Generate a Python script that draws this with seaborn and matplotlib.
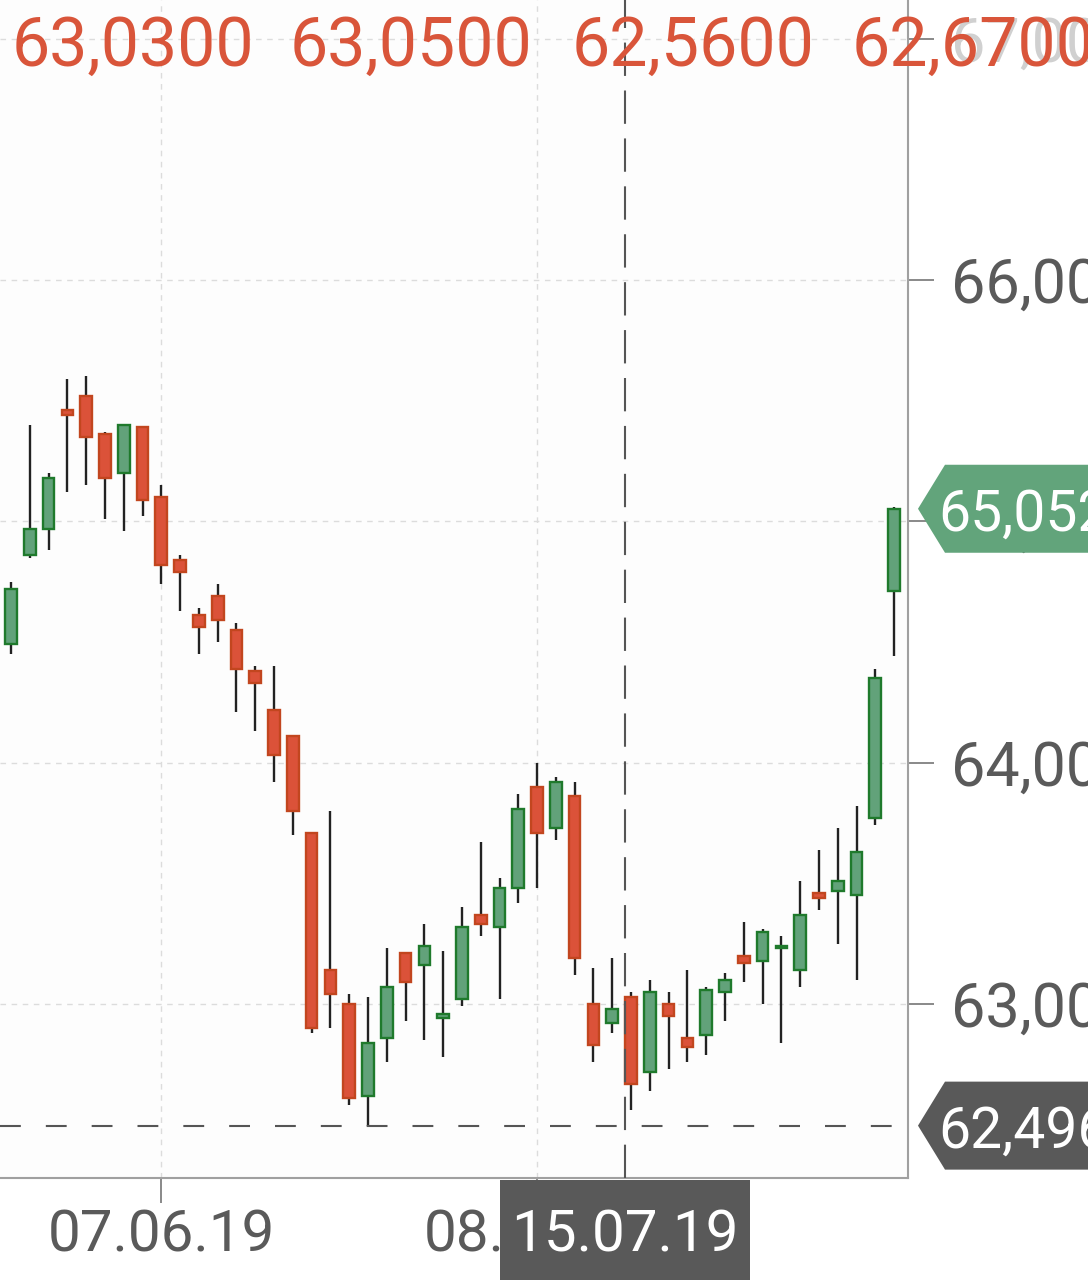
import matplotlib
matplotlib.use("Agg")
import matplotlib.pyplot as plt
import seaborn as sns
import numpy as np
import pandas as pd
from matplotlib.patches import Polygon, Rectangle

# ---------------- data ----------------
opens = [64.49, 64.86, 64.97, 65.46, 65.52, 65.36, 65.20, 65.39, 65.10, 64.84,
         64.61, 64.69, 64.55, 64.38, 64.22, 64.11, 63.71, 63.14, 63.00, 62.62,
         62.86, 63.21, 63.16, 62.94, 63.02, 63.37, 63.32, 63.48, 63.90, 63.73,
         63.86, 63.00, 62.92, 63.03, 62.72, 63.00, 62.86, 62.87, 63.05, 63.20,
         63.18, 63.23, 63.14, 63.46, 63.47, 63.45, 63.77, 64.71]
closes = [64.72, 64.97, 65.18, 65.44, 65.35, 65.18, 65.40, 65.09, 64.82, 64.79,
          64.56, 64.59, 64.39, 64.33, 64.03, 63.80, 62.90, 63.04, 62.61, 62.84,
          63.07, 63.09, 63.24, 62.96, 63.32, 63.33, 63.48, 63.81, 63.71, 63.92,
          63.19, 62.83, 62.98, 62.67, 63.05, 62.95, 62.82, 63.06, 63.10, 63.17,
          63.30, 63.24, 63.37, 63.44, 63.51, 63.63, 64.35, 65.052]
highs = [64.75, 65.40, 65.20, 65.59, 65.60, 65.37, 65.40, 65.39, 65.15, 64.86,
         64.64, 64.74, 64.58, 64.40, 64.40, 64.11, 63.71, 63.80, 63.04, 63.03,
         63.23, 63.21, 63.33, 63.22, 63.40, 63.67, 63.52, 63.87, 64.00, 63.94,
         63.92, 63.15, 63.19, 63.05, 63.10, 63.05, 63.14, 63.07, 63.13, 63.34,
         63.31, 63.28, 63.51, 63.64, 63.73, 63.82, 64.39, 65.06]
lows = [64.45, 64.85, 64.88, 65.12, 65.15, 65.01, 64.96, 65.02, 64.74, 64.63,
        64.45, 64.50, 64.21, 64.13, 63.92, 63.70, 62.88, 62.90, 62.58, 62.496,
        62.76, 62.93, 62.85, 62.78, 62.99, 63.28, 63.02, 63.42, 63.48, 63.68,
        63.12, 62.76, 62.88, 62.56, 62.64, 62.73, 62.76, 62.79, 62.93, 63.09,
        63.00, 62.84, 63.07, 63.39, 63.25, 63.10, 63.74, 64.44]

x_tick_positions = [8, 28]
x_tick_labels = ["07.06.19", "08.07.19"]
y_ticks = [63, 64, 65, 66, 67]
cross_index = 33
cross_label = "15.07.19"

df = pd.DataFrame({"open": opens, "high": highs, "low": lows, "close": closes})
df["idx"] = np.arange(len(df))
df["up"] = df["close"] >= df["open"]

GREEN_FILL, GREEN_EDGE = "#62a27a", "#1f7a2c"
RED_FILL, RED_EDGE = "#db5239", "#c2461f"
RED_TEXT = "#d9553a"
GRAY_TXT = "#5a5a5a"

sns.set_theme(style="white")
plt.rcParams["font.family"] = ["Roboto", "DejaVu Sans"]

W, H = 1088, 1280
fig = plt.figure(figsize=(W / 100, H / 100), dpi=100)
fig.patch.set_facecolor("white")
ax = fig.add_axes([0, 102 / H, 908 / W, 1178 / H])
ax.set_facecolor("#fdfdfd")

# wicks
ax.vlines(df["idx"], df["low"], df["high"], color="#222222", lw=1.7, zorder=2)
# bodies
body_bottom = df[["open", "close"]].min(axis=1)
body_h = (df["close"] - df["open"]).abs().clip(lower=0.012)
ax.bar(df["idx"], body_h, bottom=body_bottom, width=0.62,
       color=np.where(df["up"], GREEN_FILL, RED_FILL),
       edgecolor=np.where(df["up"], GREEN_EDGE, RED_EDGE),
       linewidth=1.7, zorder=3)

ax.set_xlim(-0.585, 47.74)
ax.set_ylim(62.279, 67.16)

# grid
ax.set_xticks(x_tick_positions)
ax.set_xticklabels(x_tick_labels)
ax.set_yticks(y_ticks)
ax.set_yticklabels([f"{v:.2f}".replace(".", ",") for v in y_ticks])
ax.grid(True, color="#dcdcdc", linestyle=(0, (4, 4)), lw=1.0, zorder=0)

ax.yaxis.tick_right()
ax.tick_params(axis="y", right=True, length=19, width=1.3, color="#808080",
               labelsize=44, labelcolor=GRAY_TXT, pad=12)
ax.tick_params(axis="x", bottom=True, length=18, width=1.3, color="#808080",
               labelsize=42, labelcolor=GRAY_TXT, pad=4)
for lbl, v in zip(ax.get_yticklabels(), y_ticks):
    if v == 67:
        lbl.set_color("#d0d0d0")

for s in ["left", "top"]:
    ax.spines[s].set_visible(False)
for s in ["right", "bottom"]:
    ax.spines[s].set_color("#a0a0a0")
    ax.spines[s].set_linewidth(1.5)

# crosshair lines
min_price = df["low"].min()
last_price = df["close"].iloc[-1]
ax.axhline(min_price, color="#555555", lw=1.5, linestyle=(0, (10, 12)), zorder=4)
ax.axvline(cross_index - 0.32, color="#555555", lw=1.5, linestyle=(0, (16, 7)), zorder=4)

# header with OHLC of crosshair candle
row = df.iloc[cross_index]
header_vals = [row["open"], row["high"], row["low"], row["close"]]
header_x = [12, 290, 572, 852]
for hx, v in zip(header_x, header_vals):
    fig.text(hx / W, 1 - 47 / H, f"{v:.4f}".replace(".", ","), color=RED_TEXT,
             fontsize=49, ha="left", va="center", zorder=10)

fig.canvas.draw()


def price_to_fig_y(p):
    return ax.transData.transform((0, p))[1] / H


def tag(price, color, text):
    yc = price_to_fig_y(price)
    hh = 44 / H
    pts = [(918 / W, yc), (945 / W, yc + hh), (1.0, yc + hh), (1.0, yc - hh), (945 / W, yc - hh)]
    fig.patches.append(Polygon(pts, closed=True, transform=fig.transFigure,
                               facecolor=color, edgecolor="none", zorder=5))
    fig.text(938 / W, yc, text, color="white", fontsize=41, ha="left",
             va="center_baseline", zorder=6)


tag(last_price, "#62a47b", f"{last_price:.3f}".replace(".", ","))
tag(min_price, "#595959", f"{min_price:.3f}".replace(".", ","))

# crosshair date box
cx = ax.transData.transform((cross_index - 0.32, 0))[0] / W
bw = 250 / W
fig.patches.append(Rectangle((cx - bw / 2, 0), bw, 100 / H, transform=fig.transFigure,
                             facecolor="#595959", edgecolor="none", zorder=5))
fig.text(cx, 50 / H, cross_label, color="white", fontsize=42, ha="center",
         va="center_baseline", zorder=6)

fig.savefig("out.png", dpi=100)
